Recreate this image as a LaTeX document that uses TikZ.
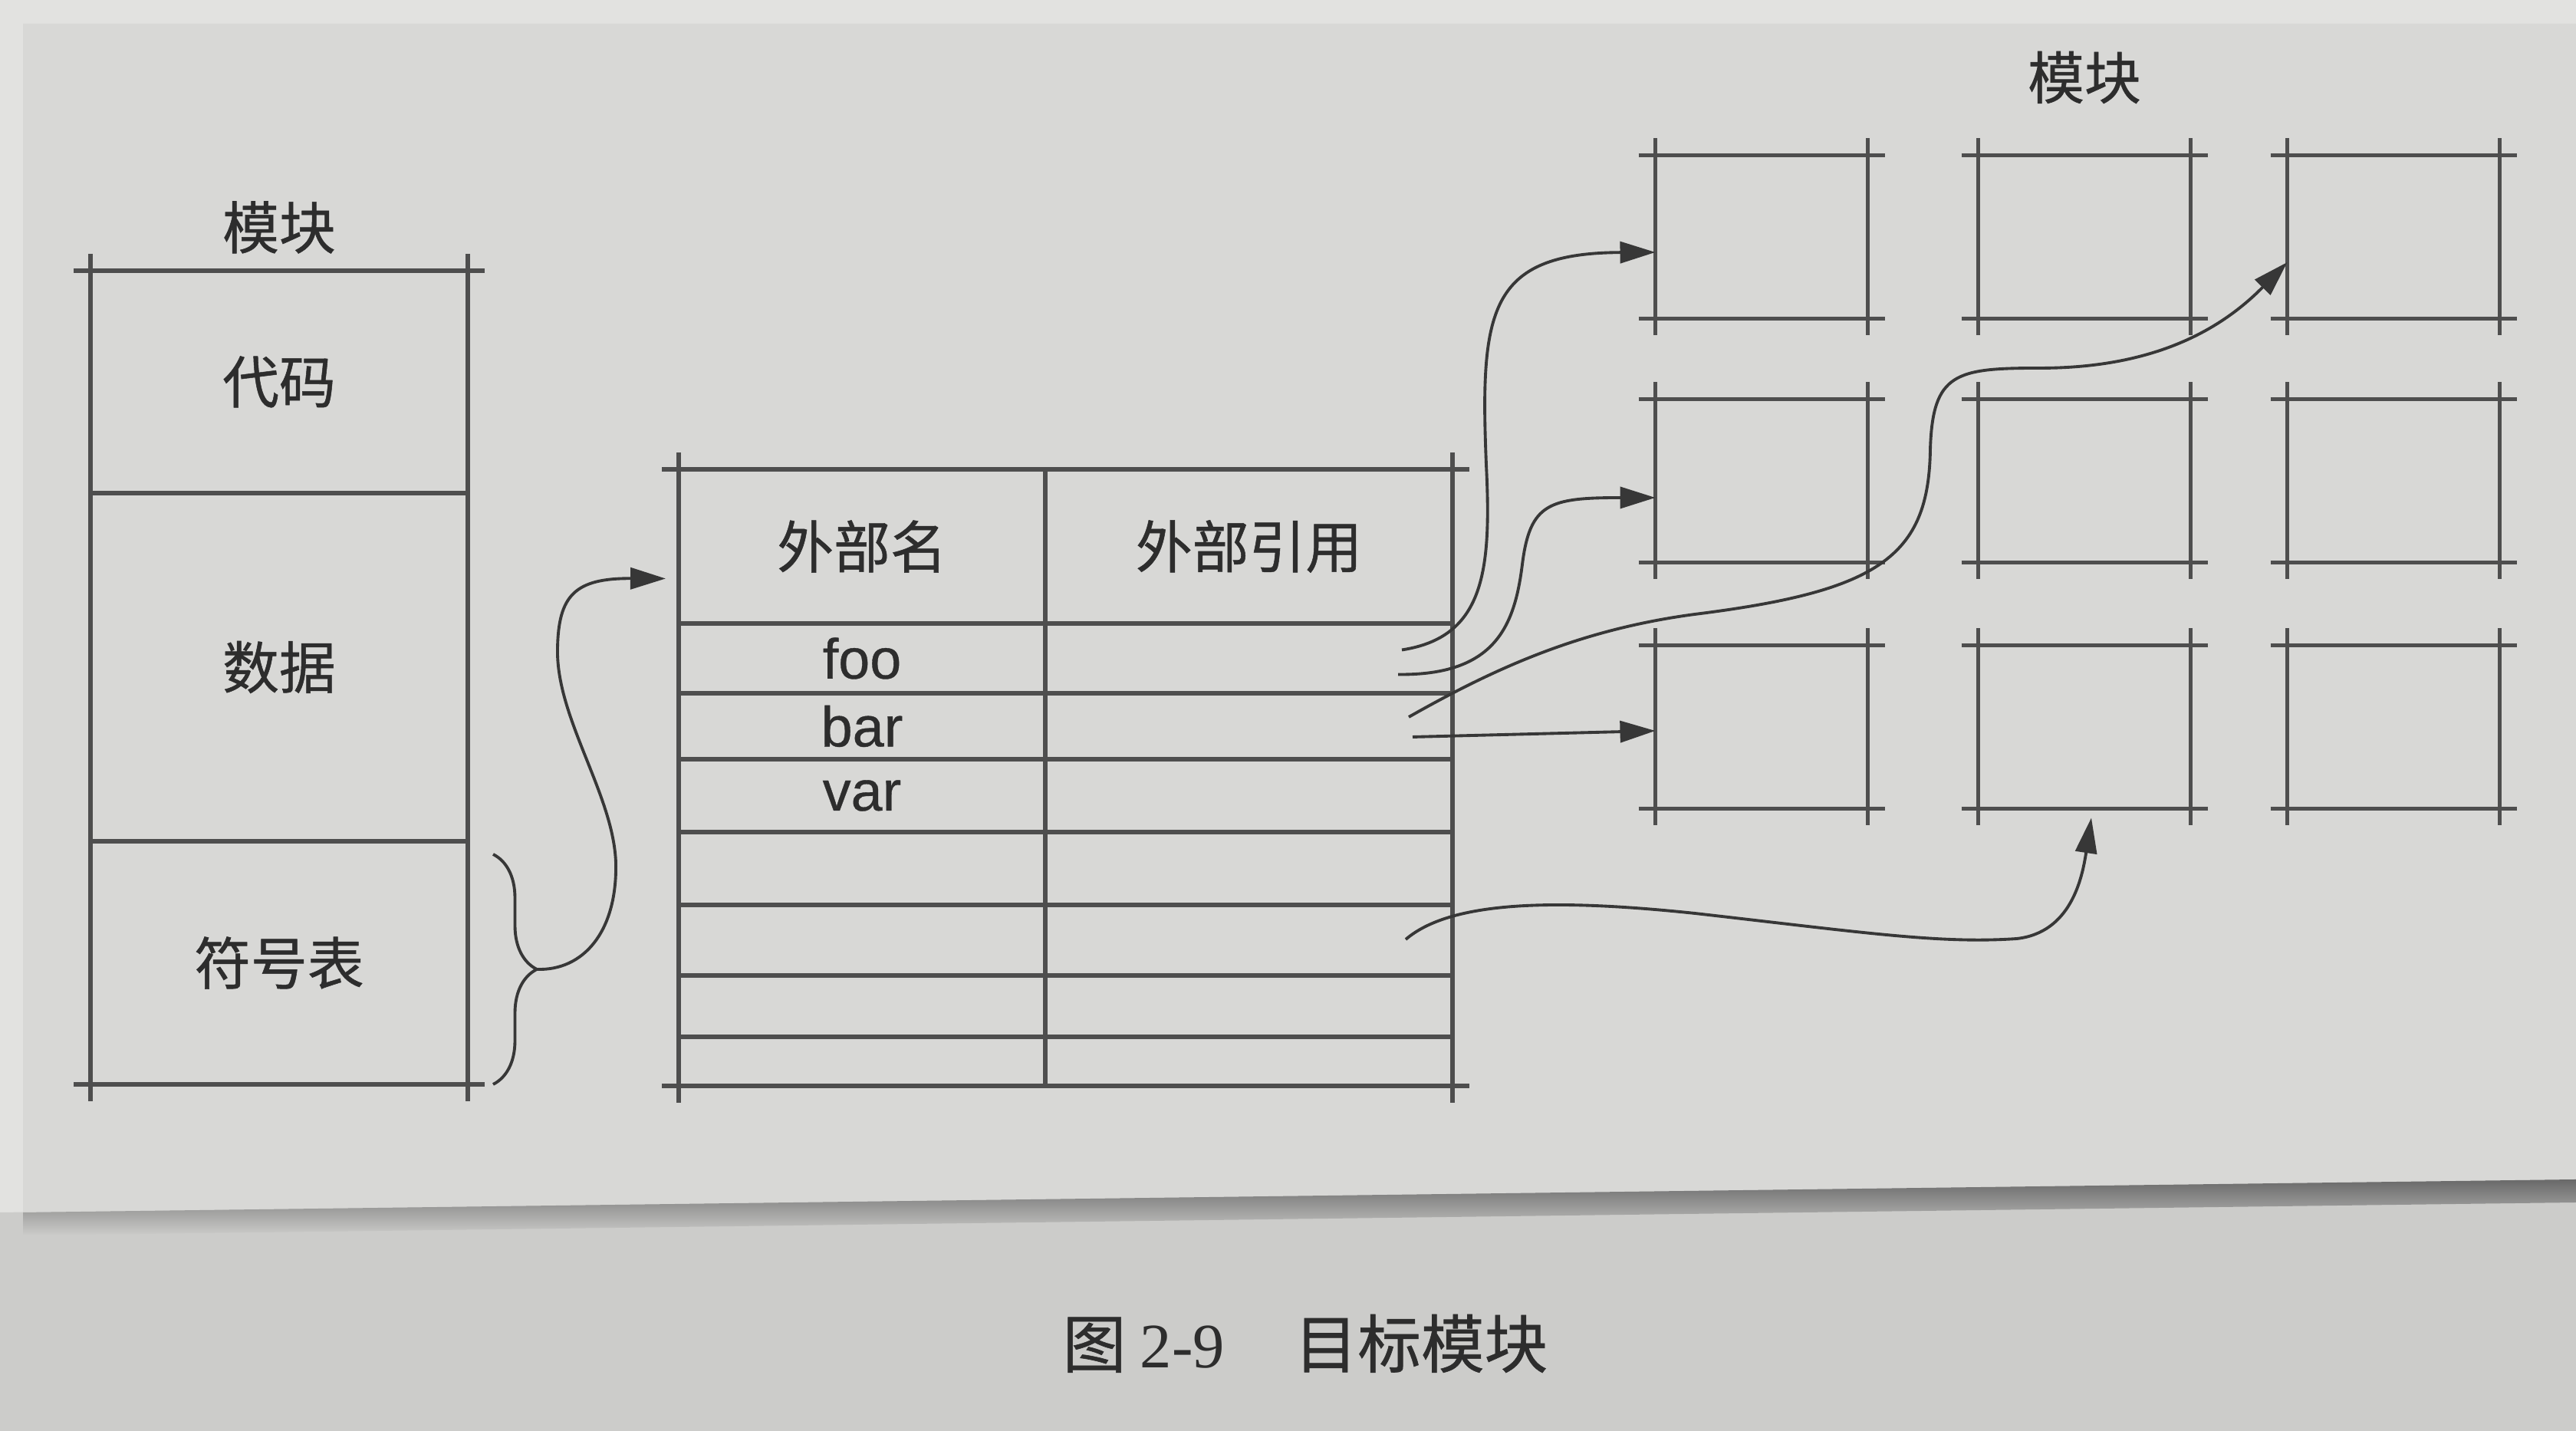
\documentclass[tikz,border=0pt]{standalone}
\usepackage{fontspec}
\setmainfont{Liberation Sans}[FakeBold=0.5]
\newfontfamily\cjk{Noto Sans CJK SC}[FakeBold=0.7]
\newfontfamily\capserif{Liberation Serif}
\usetikzlibrary{arrows.meta,positioning,fit,calc,decorations.pathreplacing}
\definecolor{ink}{RGB}{78,78,78}
\definecolor{pen}{RGB}{55,55,55}
\definecolor{inktext}{RGB}{45,45,45}
\definecolor{paper}{RGB}{216,216,214}
\definecolor{desk}{RGB}{226,226,224}
\definecolor{nextpage}{RGB}{204,204,202}
\definecolor{edgeshadow}{RGB}{105,105,105}
\newcommand{\labelsize}{\fontsize{21}{25}\selectfont}
\tikzset{
  overrun/.style={draw=ink, line width=1.5pt, shorten <=-2.2mm, shorten >=-2.2mm},
  framed/.style={inner sep=0pt, outer sep=0pt,
    append after command={
      (\tikzlastnode.north west) edge[overrun] (\tikzlastnode.north east)
      (\tikzlastnode.south west) edge[overrun] (\tikzlastnode.south east)
      (\tikzlastnode.north west) edge[overrun] (\tikzlastnode.south west)
      (\tikzlastnode.north east) edge[overrun] (\tikzlastnode.south east)}},
  modpart/.style={draw=ink, line width=1.5pt, minimum width=4.92cm, inner sep=0pt, outer sep=0pt, text=inktext, font={\cjk\labelsize}},
  namecell/.style={draw=ink, line width=1.5pt, minimum width=4.78cm, inner sep=0pt, outer sep=0pt, text=inktext, font=\labelsize},
  refcell/.style={draw=ink, line width=1.5pt, minimum width=5.31cm, inner sep=0pt, outer sep=0pt, text=inktext, font=\labelsize},
  memcell/.style={framed, draw=ink, line width=1.5pt, minimum width=2.77cm, minimum height=2.13cm},
  heading/.style={text=inktext, font={\cjk\labelsize}},
  link/.style={draw=pen, line width=1.1pt, -{Triangle[length=4.6mm,width=2.8mm]}},
  bracemark/.style={draw=pen, line width=1.1pt, decorate, decoration={brace, amplitude=5.7mm}}
}

\begin{document}
\begin{tikzpicture}
\useasboundingbox (0,0) rectangle (33.59,18.66);
% photographed page
\fill[desk] (0,0) rectangle (33.59,18.66);
\fill[nextpage] (0,0) -- (33.59,0) -- (33.59,3.28) -- (0,2.85) -- cycle;
\fill[paper] (0.30,2.85) -- (33.59,3.28) -- (33.59,18.35) -- (0.30,18.35) -- cycle;
\shade[top color=edgeshadow, bottom color=nextpage] (0.30,2.85) -- (33.59,3.28) -- (33.59,2.98) -- (0.30,2.55) -- cycle;

% module
\node[modpart, minimum height=2.90cm, anchor=north west] (modcode) at (1.18,15.13) {代码};
\node[modpart, minimum height=4.54cm, below=0pt of modcode] (moddata) {数据};
\node[modpart, minimum height=3.17cm, below=0pt of moddata] (modsym) {符号表};
\node[framed, fit=(modcode)(modsym)] (module) {};
\node[heading, above=1mm of modcode] (modtitle) {模块};

% symbol table
\node[namecell, minimum height=2.01cm, anchor=north west] (name0) at (8.85,12.54) {\cjk 外部名};
\node[refcell, minimum height=2.01cm, right=0pt of name0] (ref0) {\cjk 外部引用};
\node[namecell, minimum height=0.91cm, below=0pt of name0] (name1) {foo};
\node[refcell, minimum height=0.91cm, right=0pt of name1] (ref1) {};
\node[namecell, minimum height=0.86cm, below=0pt of name1] (name2) {bar};
\node[refcell, minimum height=0.86cm, right=0pt of name2] (ref2) {};
\node[namecell, minimum height=0.95cm, below=0pt of name2] (name3) {var};
\node[refcell, minimum height=0.95cm, right=0pt of name3] (ref3) {};
\node[namecell, minimum height=0.95cm, below=0pt of name3] (name4) {};
\node[refcell, minimum height=0.95cm, right=0pt of name4] (ref4) {};
\node[namecell, minimum height=0.92cm, below=0pt of name4] (name5) {};
\node[refcell, minimum height=0.92cm, right=0pt of name5] (ref5) {};
\node[namecell, minimum height=0.80cm, below=0pt of name5] (name6) {};
\node[refcell, minimum height=0.80cm, right=0pt of name6] (ref6) {};
\node[namecell, minimum height=0.64cm, below=0pt of name6] (name7) {};
\node[refcell, minimum height=0.64cm, right=0pt of name7] (ref7) {};
\node[framed, fit=(name0)(ref7)] (symtable) {};

% other modules
\node[memcell] (mem11) at (22.97,15.57) {};
\node[memcell] (mem12) at (27.18,15.57) {};
\node[memcell] (mem13) at (31.21,15.57) {};
\node[memcell] (mem21) at (22.97,12.39) {};
\node[memcell] (mem22) at (27.18,12.39) {};
\node[memcell] (mem23) at (31.21,12.39) {};
\node[memcell] (mem31) at (22.97,9.18) {};
\node[memcell] (mem32) at (27.18,9.18) {};
\node[memcell] (mem33) at (31.21,9.18) {};
\node[heading, above=5.5mm of mem12] (memtitle) {模块};

% brace and references
\draw[bracemark] ([shift={(0.33,-0.17)}]modsym.north east) -- ([xshift=0.33cm]modsym.south east);
\coordinate (bracetip) at ($(modsym.east)+(0.9,-0.085)$);
\coordinate (from1) at ($(ref1.east)+(-0.66,0.11)$);
\coordinate (from2) at ($(ref1.east)+(-0.71,-0.21)$);
\coordinate (from3) at ($(ref2.east)+(-0.57,0.12)$);
\coordinate (from4) at ($(ref2.east)+(-0.52,-0.14)$);
\coordinate (from5) at ($(ref5.east)+(-0.61,0.01)$);

\draw[link] (bracetip) .. controls (7.6,6.0) and (8.05,6.5) .. (8.03,7.41)
  .. controls (8.0,8.3) and (7.25,9.3) .. (7.27,10.2)
  .. controls (7.28,10.9) and (7.5,11.12) .. ([shift={(-0.17,-0.42)}]name0.west);
\draw[link] (from1) .. controls (19.35,10.35) and (19.45,11.2) .. (19.38,12.6)
  .. controls (19.3,14.6) and (19.4,15.36) .. ([yshift=-2mm]mem11.west);
\draw[link] (from2) .. controls (19.5,9.85) and (19.75,10.5) .. (19.85,11.3)
  .. controls (19.95,12.1) and (20.2,12.17) .. ([yshift=-2.2mm]mem21.west);
\draw[link] (from3) .. controls (19.5,9.95) and (20.6,10.45) .. (22.1,10.65)
  .. controls (24.5,10.95) and (25.15,11.4) .. (25.17,12.8)
  .. controls (25.2,13.8) and (25.5,13.86) .. (26.6,13.86)
  .. controls (28.0,13.86) and (28.9,14.3) .. ([yshift=-3.3mm]mem13.west);
\draw[link] (from4) -- ([yshift=-0.5mm]mem31.west);
\draw[link] (from5) .. controls (18.9,6.9) and (20.2,6.95) .. (22.1,6.75)
  .. controls (24.3,6.5) and (25.3,6.35) .. (26.3,6.42)
  .. controls (27.0,6.5) and (27.15,7.2) .. ([shift={(0.09,-0.12)}]mem32.south);

% caption
\node[text=inktext, font={\cjk\fontsize{23.5}{28}\selectfont}] (caption) at (17.02,1.14) {图 {\capserif 2-9}\hspace{1.1em}目标模块};
\end{tikzpicture}
\end{document}
